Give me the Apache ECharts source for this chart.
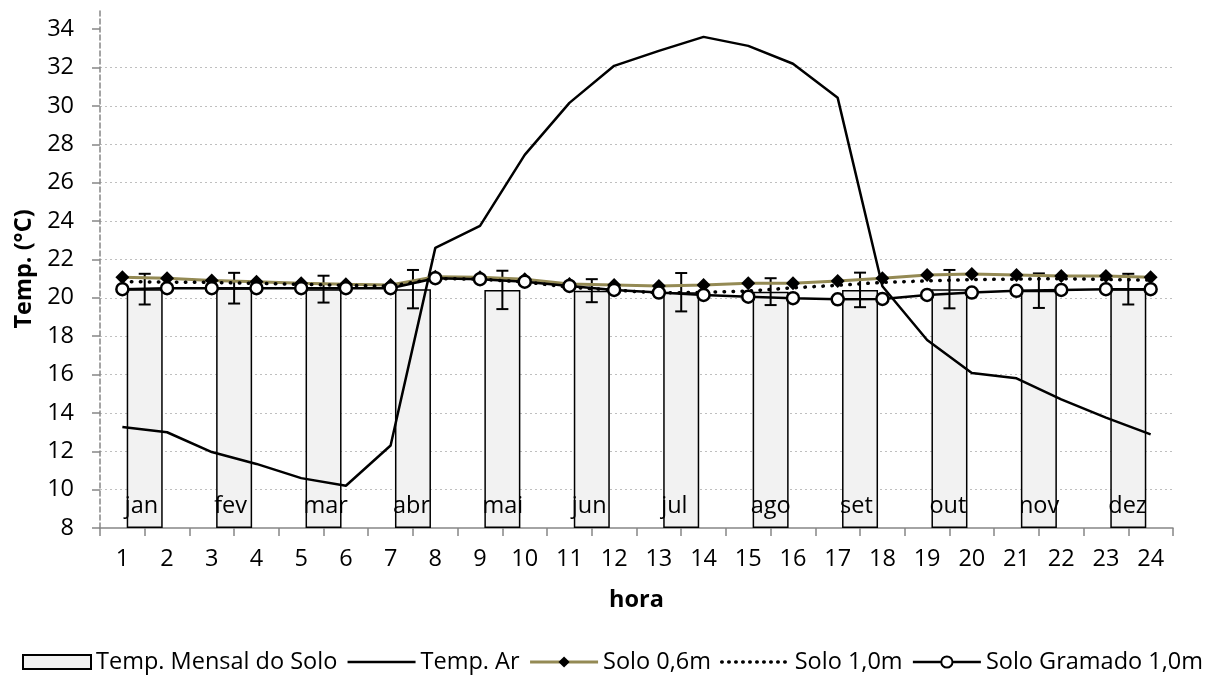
<!DOCTYPE html>
<html>
<head>
<meta charset="utf-8">
<script src="https://cdn.jsdelivr.net/npm/echarts@6/dist/echarts.min.js"></script>
<style>
  html, body { margin: 0; padding: 0; background: #fff; }
  #chart { width: 1216px; height: 688px; }
</style>
</head>
<body>
<div id="chart"></div>
<script>
// Hours of the day (x axis)
const hours = ['1','2','3','4','5','6','7','8','9','10','11','12','13','14','15','16','17','18','19','20','21','22','23','24'];
// Months shown as bars, each spanning two hours
const months = ['jan','fev','mar','abr','mai','jun','jul','ago','set','out','nov','dez'];
// Monthly soil temperature (°C) and its error range (±)
const soloMensal = [20.45, 20.5, 20.45, 20.45, 20.41, 20.37, 20.29, 20.32, 20.41, 20.45, 20.37, 20.45];
const soloMensalErro = [0.8, 0.8, 0.7, 1.0, 1.0, 0.6, 1.0, 0.7, 0.9, 1.0, 0.9, 0.8];
// Hourly series (°C)
const tempAr = [13.27, 12.99, 11.96, 11.34, 10.6, 10.2, 12.3, 22.6, 23.75, 27.45, 30.16, 32.09, 32.87, 33.6, 33.13, 32.2, 30.42, 20.6, 17.8, 16.08, 15.8, 14.7, 13.75, 12.88];
const solo06 = [21.07, 21.02, 20.9, 20.84, 20.76, 20.7, 20.67, 21.1, 21.07, 20.97, 20.72, 20.67, 20.62, 20.67, 20.76, 20.76, 20.88, 21.02, 21.19, 21.24, 21.19, 21.14, 21.14, 21.07];
const solo10 = [20.84, 20.82, 20.8, 20.75, 20.7, 20.65, 20.6, 21.0, 20.97, 20.82, 20.55, 20.4, 20.25, 20.28, 20.35, 20.52, 20.65, 20.8, 20.88, 20.95, 20.97, 21.0, 20.95, 20.92];
const soloGramado = [20.45, 20.5, 20.5, 20.5, 20.5, 20.5, 20.5, 21.02, 20.97, 20.84, 20.62, 20.41, 20.27, 20.15, 20.06, 19.98, 19.92, 19.94, 20.15, 20.27, 20.36, 20.41, 20.45, 20.45];
// Y axis ticks
const yTicks = [8, 10, 12, 14, 16, 18, 20, 22, 24, 26, 28, 30, 32, 34];

const FONT = 'Open Sans';
const FS = 23.5;
const GREY = '#868686';

const chart = echarts.init(document.getElementById('chart'), null, { renderer: 'canvas' });

const errorData = soloMensal.map((v, i) => [i, v - soloMensalErro[i], v + soloMensalErro[i]]);

chart.setOption({
  animation: false,
  textStyle: { fontFamily: FONT },
  grid: { left: 100, right: 43, top: 10, bottom: 160, containLabel: false },
  legend: {
    left: 17,
    top: 645,
    itemWidth: 68,
    itemHeight: 14,
    itemGap: 9,
    textStyle: { fontFamily: FONT, fontSize: FS, color: '#000' },
    data: [
      { name: 'Temp. Mensal do Solo', icon: 'rect' },
      { name: 'Temp. Ar', itemStyle: { opacity: 0 }, lineStyle: { width: 2.5 } },
      { name: 'Solo 0,6m', lineStyle: { width: 3 } },
      { name: 'Solo 1,0m', itemStyle: { opacity: 0 }, lineStyle: { width: 3.5, type: [0.5, 6.5], cap: 'round' } },
      { name: 'Solo Gramado 1,0m', lineStyle: { width: 2.5 } }
    ]
  },
  xAxis: [
    {
      type: 'category',
      data: hours,
      boundaryGap: true,
      name: 'hora',
      nameLocation: 'middle',
      nameGap: 60,
      nameTextStyle: { fontFamily: FONT, fontSize: FS, fontWeight: 'bold', color: '#000' },
      axisLine: { lineStyle: { color: GREY, width: 1.5 } },
      axisTick: { show: true, length: 8, lineStyle: { color: GREY, width: 1.5 } },
      axisLabel: { fontFamily: FONT, fontSize: FS, color: '#000', margin: 19 },
      splitLine: { show: false }
    },
    {
      type: 'category',
      data: months,
      boundaryGap: true,
      show: false,
      position: 'bottom'
    }
  ],
  yAxis: {
    type: 'value',
    min: 8,
    max: 35,
    interval: 2,
    startValue: 8,
    name: 'Temp. (°C)',
    nameLocation: 'middle',
    nameGap: 60,
    nameTextStyle: { fontFamily: FONT, fontSize: FS, fontWeight: 'bold', color: '#000' },
    axisLine: { show: true, lineStyle: { color: GREY, width: 1.5, type: [5, 3] } },
    axisTick: { show: true, length: 8, customValues: yTicks, lineStyle: { color: GREY, width: 1.5 } },
    axisLabel: { fontFamily: FONT, fontSize: FS, color: '#000', margin: 26, customValues: yTicks },
    splitLine: { show: true, showMaxLine: false, showMinLine: false, lineStyle: { color: '#bfbfbf', width: 1.2, type: [2, 3] } }
  },
  series: [
    {
      name: 'Temp. Mensal do Solo',
      type: 'bar',
      xAxisIndex: 1,
      yAxisIndex: 0,
      data: soloMensal,
      barWidth: 36,
      z: 1,
      itemStyle: { color: '#f2f2f2', borderColor: '#000', borderWidth: 1.5 },
      label: {
        show: true,
        formatter: '{b}',
        position: 'insideBottomLeft',
        distance: 0,
        offset: [-2, -10],
        fontFamily: FONT,
        fontSize: FS,
        color: '#000'
      }
    },
    {
      name: 'Temp. Mensal do Solo',
      type: 'custom',
      xAxisIndex: 1,
      yAxisIndex: 0,
      z: 2,
      data: errorData,
      encode: { x: 0, y: [1, 2] },
      renderItem: function (params, api) {
        const x = api.value(0);
        const lo = api.coord([x, api.value(1)]);
        const hi = api.coord([x, api.value(2)]);
        const cap = 6;
        const style = { stroke: '#000', lineWidth: 2 };
        return {
          type: 'group',
          children: [
            { type: 'line', shape: { x1: hi[0], y1: hi[1], x2: lo[0], y2: lo[1] }, style: style },
            { type: 'line', shape: { x1: hi[0] - cap, y1: hi[1], x2: hi[0] + cap, y2: hi[1] }, style: style },
            { type: 'line', shape: { x1: lo[0] - cap, y1: lo[1], x2: lo[0] + cap, y2: lo[1] }, style: style }
          ]
        };
      }
    },
    {
      name: 'Temp. Ar',
      type: 'line',
      data: tempAr,
      symbol: 'none',
      z: 3,
      itemStyle: { color: '#000' },
      lineStyle: { color: '#000', width: 2.5 }
    },
    {
      name: 'Solo 0,6m',
      type: 'line',
      data: solo06,
      symbol: 'diamond',
      symbolSize: 14,
      z: 4,
      itemStyle: { color: '#000' },
      lineStyle: { color: '#948A54', width: 3 }
    },
    {
      name: 'Solo 1,0m',
      type: 'line',
      data: solo10,
      symbol: 'none',
      z: 5,
      itemStyle: { color: '#000' },
      lineStyle: { color: '#000', width: 3.5, type: [0.5, 8.5], cap: 'round' }
    },
    {
      name: 'Solo Gramado 1,0m',
      type: 'line',
      data: soloGramado,
      symbol: 'circle',
      symbolSize: 12,
      z: 6,
      itemStyle: { color: '#fff', borderColor: '#000', borderWidth: 2.5 },
      lineStyle: { color: '#000', width: 2.5 }
    }
  ]
});
</script>
</body>
</html>
